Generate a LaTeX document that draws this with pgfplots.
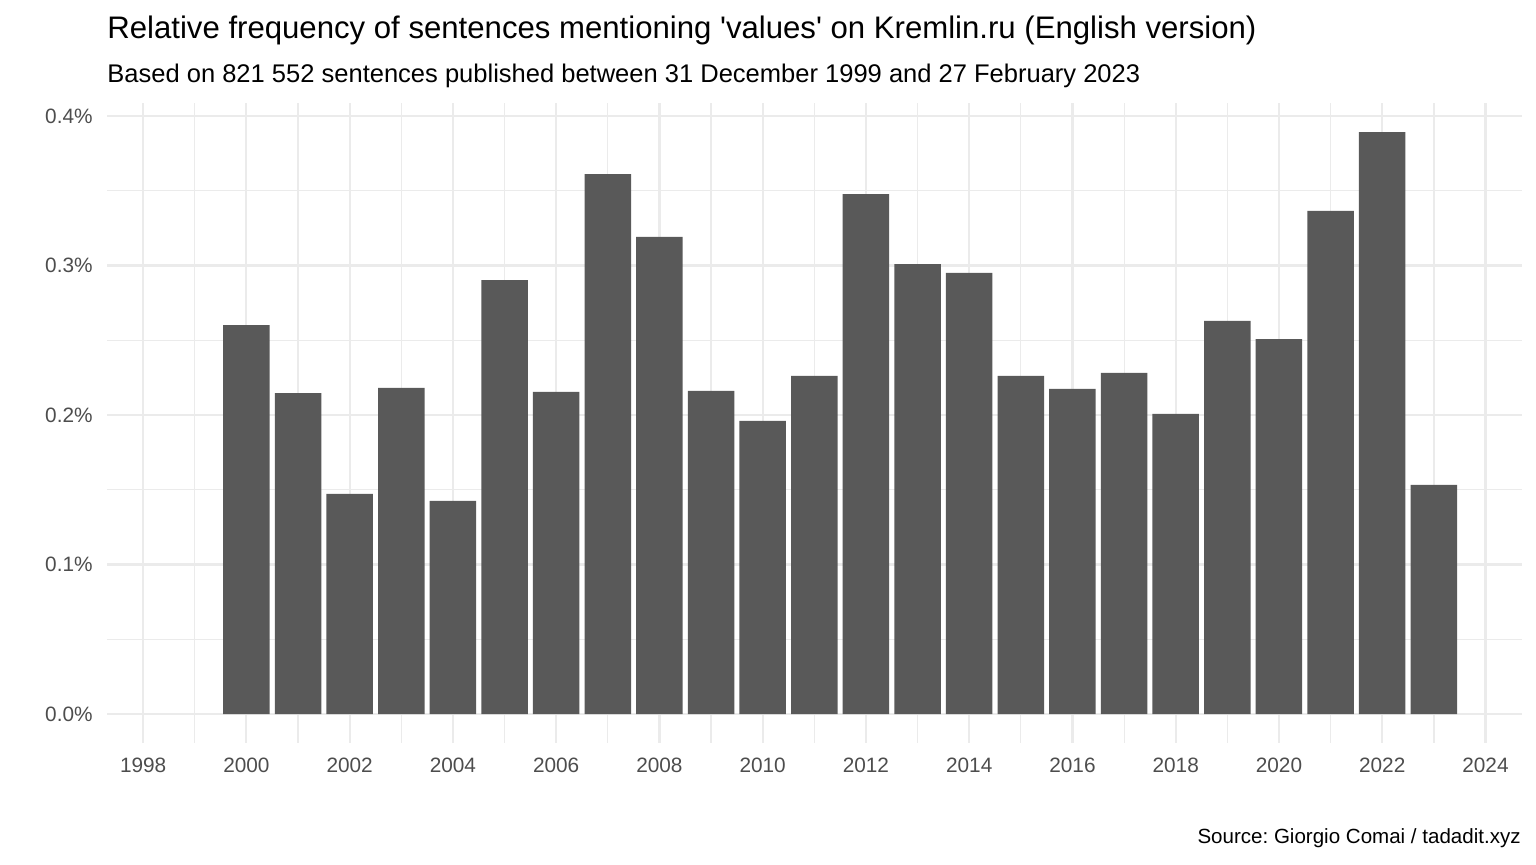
\documentclass[border=0pt]{standalone}
\usepackage{fontspec}
\setmainfont{Liberation Sans}[Ligatures=TeXOff]
\usepackage{pgfplots}
\pgfplotsset{compat=1.18}
\definecolor{barc}{HTML}{595959}
\definecolor{gridc}{HTML}{EBEBEB}
\definecolor{tickc}{HTML}{4D4D4D}
\begin{document}
\frenchspacing
\begin{tikzpicture}
\path[use as bounding box] (0,0) rectangle (768pt,432pt);
\begin{axis}[
  at={(53.5pt,60.5pt)}, anchor=south west,
  scale only axis, width=707.3pt, height=320pt,
  xmin=1997.3, xmax=2024.7, ymin=-0.0194, ymax=0.4087,
  axis line style={draw=none}, tick style={draw=none},
  xtick={1998,2000,...,2024},
  xticklabels={1998,2000,2002,2004,2006,2008,2010,2012,2014,2016,2018,2020,2022,2024},
  minor xtick={1999,2001,...,2023},
  ytick={0,0.1,0.2,0.3,0.4},
  yticklabels={0.0\%,0.1\%,0.2\%,0.3\%,0.4\%},
  minor ytick={0.05,0.15,0.25,0.35},
  grid=both,
  major grid style={gridc, line width=1.1pt},
  minor grid style={gridc, line width=0.6pt},
  ticklabel style={font=\fontsize{10.4}{12}\selectfont, text=tickc, inner sep=0pt},
  yticklabel style={anchor=east, xshift=-7pt},
  xticklabel style={anchor=north, yshift=-3pt},
  ybar, bar width=0.9, bar shift=0pt,
]
\addplot[fill=barc, draw=none] coordinates {
(2000,0.2602) (2001,0.2147) (2002,0.1472) (2003,0.2181) (2004,0.1425)
(2005,0.2903) (2006,0.2154) (2007,0.3612) (2008,0.3191) (2009,0.2161)
(2010,0.1960) (2011,0.2261) (2012,0.3478) (2013,0.3010) (2014,0.2950)
(2015,0.2261) (2016,0.2174) (2017,0.2281) (2018,0.2007) (2019,0.2629)
(2020,0.2508) (2021,0.3365) (2022,0.3893) (2023,0.1532)
};
\end{axis}
\node[anchor=base west, inner sep=0pt, font=\fontsize{15.57}{18}\selectfont] at (53.5pt,412.75pt) {Relative frequency of sentences mentioning 'values' on Kremlin.ru (English version)};
\node[anchor=base west, inner sep=0pt, font=\fontsize{12.76}{15}\selectfont] at (53.5pt,390.5pt) {Based on 821 552 sentences published between 31 December 1999 and 27 February 2023};
\node[anchor=base east, inner sep=0pt, font=\fontsize{10.27}{12}\selectfont] at (760.5pt,10.5pt) {Source: Giorgio Comai / tadadit.xyz};
\end{tikzpicture}
\end{document}
